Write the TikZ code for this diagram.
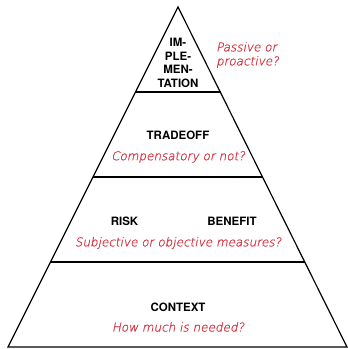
\documentclass[tikz,border=0pt]{standalone}
\usepackage{fontspec}
\setmainfont{TeX Gyre Heros}
\newfontfamily\notefont{DejaVu Sans ExtraLight}[FakeSlant=0.2,FakeBold=1.5]
\definecolor{notered}{RGB}{214,62,76}
\tikzset{
  tier/.style={line width=1.2pt},
  head/.style={font=\fontsize{11.5}{13.5}\selectfont\bfseries, align=center, inner sep=0pt},
  note/.style={font=\fontsize{12}{14}\selectfont\notefont, text=notered, align=left, inner sep=0pt}
}
\begin{document}
\begin{tikzpicture}[x=1pt,y=-1pt]
\useasboundingbox (0,0) rectangle (348,349);
% outline of the pyramid
\coordinate (apex) at (178,7);
\coordinate (bl) at (8,347);
\coordinate (br) at (347,347);
\draw[tier, line join=miter] (apex) -- (bl) -- (br) -- cycle;
% tier boundaries
\coordinate (l1) at (136,92);
\coordinate (r1) at (221,92);
\coordinate (l2) at (93,177);
\coordinate (r2) at (263,177);
\coordinate (l3) at (51,262);
\coordinate (r3) at (305,262);
\draw[tier] (l1) -- (r1);
\draw[tier] (l2) -- (r2);
\draw[tier] (l3) -- (r3);
% top tier
\node[head] (impl) at (178,63) {IM-\\PLE-\\MEN-\\TATION};
\node[note, anchor=west] (implq) at (216,55) {Passive or\\proactive?};
% second tier
\node[head] (trade) at (178,135) {TRADEOFF};
\node[note] (tradeq) at (178,157) {Compensatory or not?};
% third tier
\node[head] (risk) at (124.5,221) {RISK};
\node[head] (benefit) at (232,221) {BENEFIT};
\node[note] (measq) at (178,243) {Subjective or objective measures?};
% base tier
\node[head] (context) at (178,307) {CONTEXT};
\node[note] (contextq) at (178,327) {How much is needed?};
\end{tikzpicture}
\end{document}
